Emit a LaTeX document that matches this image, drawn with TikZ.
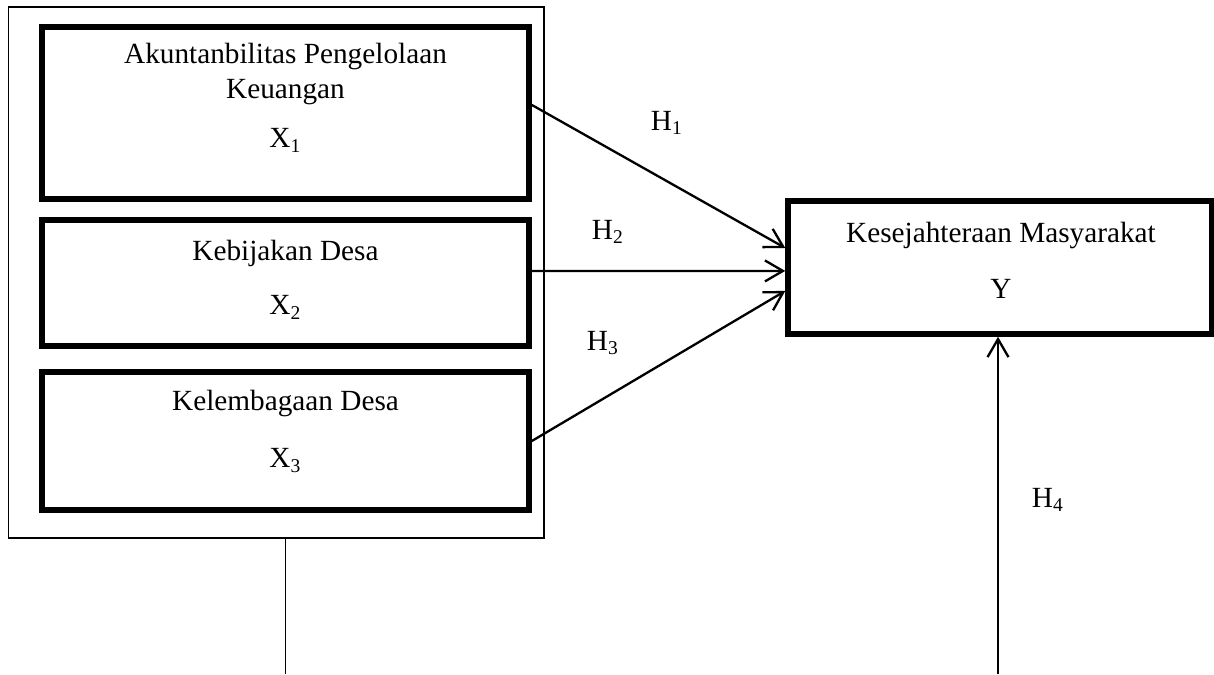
\documentclass[tikz,border=0pt]{standalone}
\usepackage{fontspec}
\setmainfont{Liberation Serif}
\usetikzlibrary{arrows.meta}

\begin{document}
\begin{tikzpicture}[x=0.41pt, y=-0.41pt]
    \tikzstyle{variabel} = [draw, line width=2.3pt, minimum width=199.7pt, inner sep=0pt]
    \tikzstyle{teks} = [align=center, font=\fontsize{12}{14.4}\selectfont]
    \tikzstyle{panah} = [line width=0.95pt, -{Straight Barb[length=7.4pt, width=8.6pt]}]
    \useasboundingbox (0, 0) rectangle (1214, 674);
    % kotak luar X1--X3
    \node[draw, line width=0.5pt, minimum width=219.5pt, minimum height=217.7pt, inner sep=0pt] (luar) at (276.3, 272.5) {};
    \node[variabel, minimum height=70.5pt] (x1) at (285.5, 113) {};
    \node[variabel, minimum height=51.7pt] (x2) at (285.5, 283) {};
    \node[variabel, minimum height=56.6pt] (x3) at (285.5, 441) {};
    \node[variabel, minimum width=173.8pt, minimum height=54.5pt] (y) at (1000, 267.5) {};
    \node[teks] (tx1) at (285.5, 97.5) {Akuntanbilitas Pengelolaan\\Keuangan\\[6pt]X\textsubscript{1}};
    \node[teks] (tx2) at (285.5, 279.5) {Kebijakan Desa\\[8pt]X\textsubscript{2}};
    \node[teks] (tx3) at (285.5, 431.5) {Kelembagaan Desa\\[9pt]X\textsubscript{3}};
    \node[teks] (ty) at (1001, 260) {Kesejahteraan Masyarakat\\[8.5pt]Y};
    % hipotesis
    \draw[panah] ([yshift=3.3pt]x1.east) -- ([yshift=8pt]y.west);
    \draw[panah] ([yshift=4.9pt]x2.east) -- ([yshift=-1.4pt]y.west);
    \draw[panah] (x3.east) -- ([yshift=-9.6pt]y.west);
    \coordinate (kaki1) at (285.5, 674);
    \coordinate (kaki4) at (998, 674);
    \draw[line width=0.5pt] (luar.south -| x3.south) -- (kaki1);
    \draw[panah] (kaki4) -- (kaki4 |- y.south);
    \node[teks] (h1) at (667, 123) {H\textsubscript{1}};
    \node[teks] (h2) at (608, 232) {H\textsubscript{2}};
    \node[teks] (h3) at (603, 343) {H\textsubscript{3}};
    \node[teks] (h4) at (1048, 500) {H\textsubscript{4}};
\end{tikzpicture}
\end{document}
